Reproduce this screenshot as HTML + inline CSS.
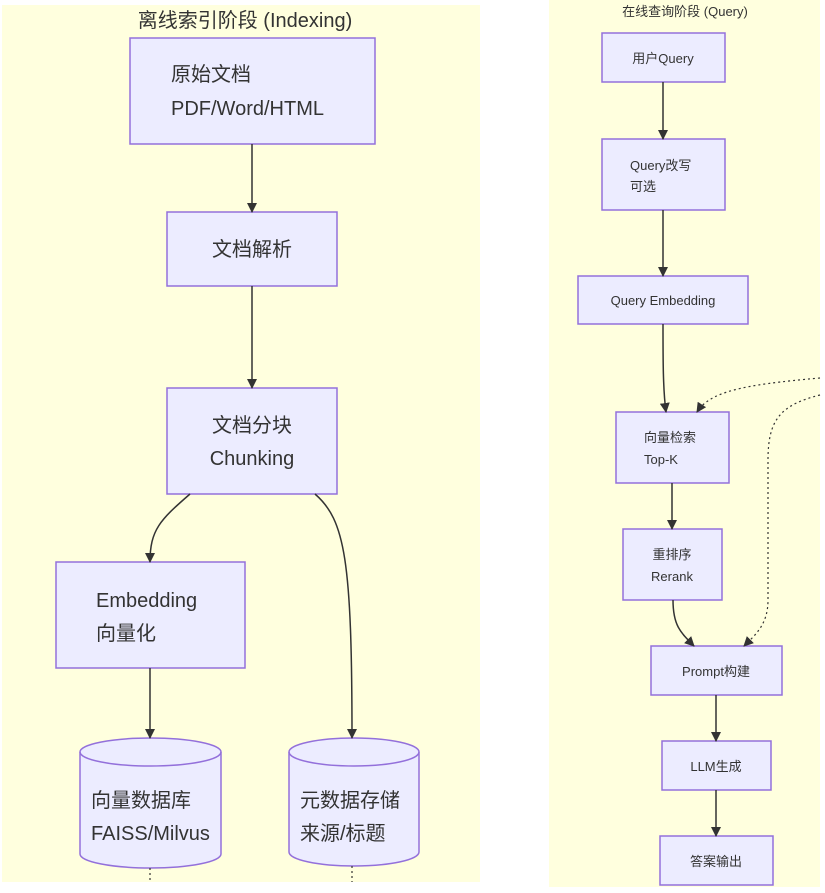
<!DOCTYPE html>
<html><head><meta charset="utf-8"><style>
body{margin:0;width:825px;height:888px;background:#fff;overflow:hidden;font-family:"Liberation Sans","Noto Sans CJK SC",sans-serif;}
svg text{font-family:"Liberation Sans","Noto Sans CJK SC",sans-serif;fill:#333;}
</style></head><body>
<svg width="825" height="888" viewBox="0 0 825 888" xmlns="http://www.w3.org/2000/svg">
<defs><marker id="a" markerWidth="10" markerHeight="10" refX="9" refY="5" orient="auto" markerUnits="userSpaceOnUse"><path d="M0,0L10,5L0,10z" fill="#333"/></marker></defs>
<rect x="2" y="5" width="478" height="877" fill="#ffffde"/>
<rect x="549" y="0" width="271" height="887" fill="#ffffde"/>
<text x="245" y="27" font-size="20" text-anchor="middle">离线索引阶段 (Indexing)</text>
<text x="685" y="16" font-size="13" text-anchor="middle">在线查询阶段 (Query)</text>
<g fill="#ececff" stroke="#9370db" stroke-width="1.5">
<rect x="130" y="38" width="245" height="106"/>
<rect x="167" y="212" width="170" height="74"/>
<rect x="167" y="388" width="170" height="106"/>
<rect x="56" y="562" width="189" height="106"/>
<path d="M80,752 A70.5,14 0 0 1 221,752 V854 A70.5,14 0 0 1 80,854 Z"/>
<path d="M80,752 A70.5,14 0 0 0 221,752" fill="none"/>
<path d="M289,752 A65,14 0 0 1 419,752 V852 A65,14 0 0 1 289,852 Z"/>
<path d="M289,752 A65,14 0 0 0 419,752" fill="none"/>
<rect x="602" y="33" width="123" height="49"/>
<rect x="602" y="139" width="123" height="71"/>
<rect x="578" y="276" width="170" height="48"/>
<rect x="616" y="412" width="113" height="71"/>
<rect x="623" y="529" width="99" height="71"/>
<rect x="651" y="646" width="131" height="49"/>
<rect x="662" y="741" width="109" height="49"/>
<rect x="660" y="836" width="113" height="49"/>
</g>
<g stroke="#333" stroke-width="1.5" fill="none" marker-end="url(#a)">
<path d="M252,144V212"/><path d="M252,286V388"/>
<path d="M190,494C160,520 150,530 150,562"/>
<path d="M315,494C345,520 352,560 352,738"/>
<path d="M150,668V738"/>
<path d="M663,82V139"/><path d="M663,210V276"/>
<path d="M663,324C663,360 663,390 666,412"/>
<path d="M672,483V529"/>
<path d="M673,600C673,625 680,632 694,646"/>
<path d="M716,695V741"/><path d="M716,790V836"/>
</g>
<g stroke="#333" stroke-width="1.2" fill="none" stroke-dasharray="2,3">
<path d="M820,378C740,385 710,392 697,412" marker-end="url(#a)"/>
<path d="M820,395C780,405 768,420 768,460V600C768,625 755,635 744,646" marker-end="url(#a)"/>
<path d="M150,868V882"/><path d="M352,866V882"/>
</g>
<g font-size="20">
<text x="171" y="81">原始文档</text><text x="171" y="115">PDF/Word/HTML</text>
<text x="252" y="256" text-anchor="middle">文档解析</text>
<text x="252" y="432" text-anchor="middle">文档分块</text><text x="252" y="465" text-anchor="middle">Chunking</text>
<text x="96" y="607">Embedding</text><text x="96" y="640">向量化</text>
<text x="91" y="807">向量数据库</text><text x="91" y="840">FAISS/Milvus</text>
<text x="300" y="807">元数据存储</text><text x="300" y="840">来源/标题</text>
</g>
<g font-size="13">
<text x="663" y="63" text-anchor="middle">用户Query</text>
<text x="630" y="170">Query改写</text><text x="630" y="191">可选</text>
<text x="663" y="305" text-anchor="middle">Query Embedding</text>
<text x="644" y="442">向量检索</text><text x="644" y="464">Top-K</text>
<text x="672" y="559" text-anchor="middle">重排序</text><text x="672" y="581" text-anchor="middle">Rerank</text>
<text x="716" y="676" text-anchor="middle">Prompt构建</text>
<text x="716" y="771" text-anchor="middle">LLM生成</text>
<text x="716" y="866" text-anchor="middle">答案输出</text>
</g>
</svg>
</body></html>
